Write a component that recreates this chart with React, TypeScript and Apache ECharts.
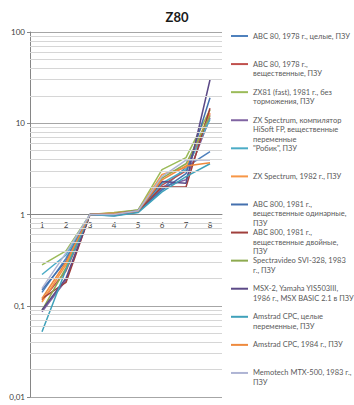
import React, { useEffect, useRef } from "react";
import * as echarts from "echarts";

const categories = ["1", "2", "3", "4", "5", "6", "7", "8"];

const seriesNames = [
  "ABC 80, 1978 г., целые, ПЗУ",
  "ABC 80, 1978 г., вещественные, ПЗУ",
  "ZX81 (fast), 1981 г., без торможения, ПЗУ",
  "ZX Spectrum, компилятор HiSoft FP, вещественные переменные",
  "\"Робик\", ПЗУ",
  "ZX Spectrum, 1982 г., ПЗУ",
  "ABC 800, 1981 г., вещественные одинарные, ПЗУ",
  "ABC 800, 1981 г., вещественные двойные, ПЗУ",
  "Spectravideo SVI-328, 1983 г., ПЗУ",
  "MSX-2, Yamaha YIS503III, 1986 г., MSX BASIC 2.1 в ПЗУ",
  "Amstrad CPC, целые переменные, ПЗУ",
  "Amstrad CPC, 1984 г., ПЗУ",
  "Memotech MTX-500, 1983 г., ПЗУ",
];

const legendLines = [
  ["ABC 80, 1978 г., целые, ПЗУ"],
  ["ABC 80, 1978 г.,", "вещественные, ПЗУ"],
  ["ZX81 (fast), 1981 г., без", "торможения, ПЗУ"],
  ["ZX Spectrum, компилятор", "HiSoft FP, вещественные", "переменные"],
  ["\"Робик\", ПЗУ"],
  ["ZX Spectrum, 1982 г., ПЗУ"],
  ["ABC 800, 1981 г.,", "вещественные одинарные,", "ПЗУ"],
  ["ABC 800, 1981 г.,", "вещественные двойные,", "ПЗУ"],
  ["Spectravideo SVI-328, 1983", "г., ПЗУ"],
  ["MSX-2, Yamaha YIS503III,", "1986 г., MSX BASIC 2.1 в ПЗУ"],
  ["Amstrad CPC, целые", "переменные, ПЗУ"],
  ["Amstrad CPC, 1984 г., ПЗУ"],
  ["Memotech MTX-500, 1983 г.,", "ПЗУ"],
];

const colors = [
  "#4F81BD", "#C0504D", "#9BBB59", "#8064A2", "#4BACC6", "#F79646",
  "#4470AE", "#A03F3C", "#8DAA4F", "#5C4A87", "#3FA1BA", "#EE8A3E", "#AEB4D4",
];

const abc80Int = [0.14, 0.33, 1, 0.97, 1.07, 1.9, 3.3, 4.9];
const abc80Real = [0.115, 0.24, 1, 1.02, 1.1, 2.1, 3.0, 12.5];
const zx81 = [0.28, 0.4, 1, 1.05, 1.12, 3.1, 4.2, 14];
const zxHisoft = [0.086, 0.19, 1, 1.0, 1.08, 2.0, 2.4, 11.5];
const robik = [0.22, 0.36, 1, 1.0, 1.06, 2.2, 3.1, 11];
const zxSpectrum = [0.11, 0.28, 1, 1.04, 1.1, 2.75, 3.3, 13];
const abc800Single = [0.15, 0.31, 1, 0.98, 1.08, 1.85, 2.8, 19];
const abc800Double = [0.12, 0.18, 1, 1.0, 1.09, 2.0, 2.0, 14.6];
const spectravideo = [0.089, 0.26, 1, 1.03, 1.12, 2.5, 3.6, 12];
const msx2 = [0.09, 0.2, 1, 1.01, 1.1, 2.3, 2.2, 30];
const amstradInt = [0.052, 0.25, 1, 0.96, 1.05, 1.77, 2.6, 3.6];
const amstrad = [0.12, 0.3, 1, 1.02, 1.09, 2.4, 3.4, 3.7];
const memotech = [0.155, 0.38, 1, 1.0, 1.1, 2.6, 3.95, 3.95];

const seriesValues = [
  abc80Int, abc80Real, zx81, zxHisoft, robik, zxSpectrum, abc800Single,
  abc800Double, spectravideo, msx2, amstradInt, amstrad, memotech,
];

const minorGridValues = [
  0.02, 0.03, 0.04, 0.05, 0.06, 0.07, 0.08, 0.09,
  0.2, 0.3, 0.4, 0.5, 0.6, 0.7, 0.8, 0.9,
  2, 3, 4, 5, 6, 7, 8, 9,
  20, 30, 40, 50, 60, 70, 80, 90,
];

const FONT = "Lato, 'Noto Sans', sans-serif";

export default function App() {
  const ref = useRef<HTMLDivElement>(null);
  useEffect(() => {
    document.body.style.margin = "0";
    if (!ref.current) return;
    const chart = echarts.init(ref.current, null, { renderer: "svg" });
    const gridTop = 32;
    const gridBottom = 8;
    const gridHeight = 405 - gridTop - gridBottom;
    const L = 9.5;
    const legends = seriesNames.map((name, i) => {
      const lines = legendLines[i];
      const n = lines.length;
      const c = 36 + i * 28.08;
      return {
        data: [name],
        orient: "vertical",
        left: 231,
        top: c - ((2 * n - 1) * L) / 2,
        padding: 0,
        itemWidth: 17,
        itemHeight: 2,
        icon: "rect",
        selectedMode: false,
        formatter: () => "\n".repeat(n - 1) + lines.join("\n"),
        textStyle: { fontSize: 7.5, lineHeight: L, color: "#595959", fontFamily: FONT },
      };
    });
    const option: any = {
      animation: false,
      title: {
        text: "Z80",
        left: "center",
        top: 5,
        textStyle: { fontSize: 13, fontWeight: "bold", color: "#1a1a1a", fontFamily: FONT },
      },
      legend: legends,
      grid: { left: 30, right: 132, top: gridTop, bottom: gridBottom },
      xAxis: {
        type: "category",
        data: categories,
        boundaryGap: true,
        offset: -gridHeight / 2,
        axisLine: { lineStyle: { color: "#868686" } },
        axisTick: { inside: true, length: 3, lineStyle: { color: "#868686" } },
        axisLabel: { fontSize: 8, color: "#404040", margin: 6, fontFamily: FONT },
        splitLine: { show: false },
      },
      yAxis: {
        type: "log",
        logBase: 10,
        min: 0.01,
        max: 100,
        axisLine: { show: true, lineStyle: { color: "#868686" } },
        axisTick: { show: true, length: 3, lineStyle: { color: "#868686" } },
        axisLabel: {
          fontSize: 8,
          color: "#404040",
          margin: 5,
          fontFamily: FONT,
          formatter: (v: number) => String(Number(v.toPrecision(6))).replace(".", ","),
        },
        splitLine: { show: true, lineStyle: { color: "#a6a6a6" } },
      },
      series: [
        {
          type: "line",
          name: "__minor",
          data: categories.map(() => null),
          z: 1,
          silent: true,
          markLine: {
            silent: true,
            symbol: ["none", "none"],
            label: { show: false },
            lineStyle: { color: "#d6d6d6", width: 1, type: "solid" },
            emphasis: { disabled: true },
            data: minorGridValues.map((v) => ({ yAxis: v })),
          },
        },
        ...seriesNames.map((name, i) => ({
          type: "line",
          name,
          data: seriesValues[i],
          color: colors[i],
          symbol: "none",
          z: 2,
          lineStyle: { width: 1.5, color: colors[i] },
        })),
      ],
    };
    chart.setOption(option);
    return () => chart.dispose();
  }, []);
  return <div ref={ref} style={{ width: 354, height: 405 }} />;
}
